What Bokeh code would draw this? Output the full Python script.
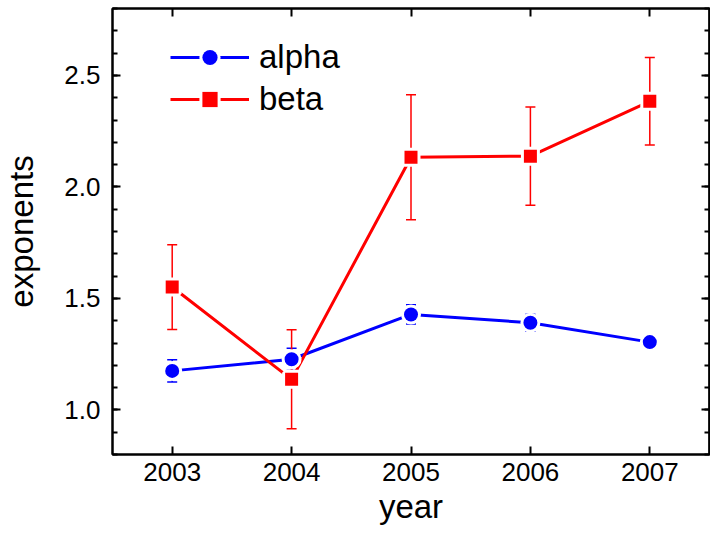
from bokeh.plotting import figure
from bokeh.models import (ColumnDataSource, Whisker, TeeHead, FixedTicker, LinearAxis,
                          PrintfTickFormatter, Legend, LegendItem, Range1d)
from bokeh.embed import file_html
from bokeh.resources import INLINE
import numpy as np

# ---- data ----
years = [2003, 2004, 2005, 2006, 2007]
alpha = [1.175, 1.227, 1.428, 1.391, 1.304]
alpha_err = [0.05, 0.05, 0.043, 0.038, 0.032]
beta = [1.551, 1.137, 2.133, 2.138, 2.384]
beta_err = [0.19, 0.222, 0.28, 0.22, 0.196]
y_major = [1.0, 1.5, 2.0, 2.5]

FONT = "Liberation Sans"
BLUE = "#0000ff"
RED = "#ff0000"

y_minor = [round(v, 1) for v in np.arange(0.8, 2.81, 0.1)]

p = figure(width=710, height=533, output_backend="svg", toolbar_location=None,
           x_range=Range1d(2002.5, 2007.5), y_range=Range1d(0.8, 2.8),
           min_border_left=111, min_border_right=1, min_border_top=8, min_border_bottom=79,
           x_axis_label="year", y_axis_label="exponents")
p.grid.visible = False
p.outline_line_color = "black"
p.outline_line_width = 2
p.background_fill_color = "white"
p.border_fill_color = "white"


def base_axis(ax, ticker):
    ax.ticker = ticker
    ax.axis_line_width = 2
    ax.axis_line_color = "black"
    ax.major_tick_line_width = 2
    ax.minor_tick_line_width = 2
    ax.major_tick_in = 8
    ax.major_tick_out = 0
    ax.minor_tick_in = 5
    ax.minor_tick_out = 0


def label_axis(ax):
    ax.major_label_text_font = FONT
    ax.major_label_text_font_size = "26px"
    ax.major_label_text_color = "black"
    ax.axis_label_text_font = FONT
    ax.axis_label_text_font_size = "33px"
    ax.axis_label_text_font_style = "normal"
    ax.axis_label_text_color = "black"


def bare_axis(minor, tick_len):
    # ticks only, no labels: all ticks given as minor ticks of chosen length
    ax = LinearAxis(ticker=FixedTicker(ticks=[], minor_ticks=minor))
    ax.axis_line_width = 2
    ax.axis_line_color = "black"
    ax.minor_tick_line_width = 2
    ax.minor_tick_in = tick_len
    ax.minor_tick_out = 0
    ax.major_tick_in = 0
    ax.major_tick_out = 0
    ax.major_label_standoff = 0
    ax.axis_label = None
    return ax


xa = p.xaxis[0]
ya = p.yaxis[0]
base_axis(xa, FixedTicker(ticks=years, minor_ticks=[]))
base_axis(ya, FixedTicker(ticks=y_major, minor_ticks=y_minor))
label_axis(xa)
label_axis(ya)
ya.formatter = PrintfTickFormatter(format="%.1f")
xa.major_label_standoff = 8
xa.axis_label_standoff = 4
ya.major_label_standoff = 12
ya.axis_label_standoff = 21

p.add_layout(bare_axis(years, 8), "above")
p.add_layout(bare_axis(y_major, 8), "right")
p.add_layout(bare_axis(y_minor, 5), "right")

src_a = ColumnDataSource(dict(x=years, y=alpha,
                              lo=[v - e for v, e in zip(alpha, alpha_err)],
                              hi=[v + e for v, e in zip(alpha, alpha_err)]))
src_b = ColumnDataSource(dict(x=years, y=beta,
                              lo=[v - e for v, e in zip(beta, beta_err)],
                              hi=[v + e for v, e in zip(beta, beta_err)]))

line_a = p.line("x", "y", source=src_a, line_color=BLUE, line_width=3)
line_b = p.line("x", "y", source=src_b, line_color=RED, line_width=3)

halo_a = p.scatter("x", "y", source=src_a, marker="circle", size=14,
                   fill_color="white", line_color="white", line_width=6)
halo_b = p.scatter("x", "y", source=src_b, marker="square", size=13,
                   fill_color="white", line_color="white", line_width=6)

mk_a = p.scatter("x", "y", source=src_a, marker="circle", size=14,
                 fill_color=BLUE, line_color=None)
mk_b = p.scatter("x", "y", source=src_b, marker="square", size=13,
                 fill_color=RED, line_color=None)

for src, col in ((src_a, BLUE), (src_b, RED)):
    w = Whisker(base="x", lower="lo", upper="hi", source=src,
                line_color=col, line_width=1.5,
                lower_head=TeeHead(size=10, line_color=col, line_width=1.5),
                upper_head=TeeHead(size=10, line_color=col, line_width=1.5))
    p.add_layout(w)

legend = Legend(items=[LegendItem(label="alpha", renderers=[line_a, halo_a, mk_a]),
                       LegendItem(label="beta", renderers=[line_b, halo_b, mk_b])],
                location=(58, 336), orientation="vertical",
                glyph_width=79, glyph_height=38, label_height=38, spacing=4,
                padding=0, margin=0, label_standoff=10,
                border_line_alpha=0, background_fill_alpha=0,
                label_text_font=FONT, label_text_font_size="33px", label_text_color="black")
p.add_layout(legend)

open("out.html", "w").write(file_html(p, INLINE))
